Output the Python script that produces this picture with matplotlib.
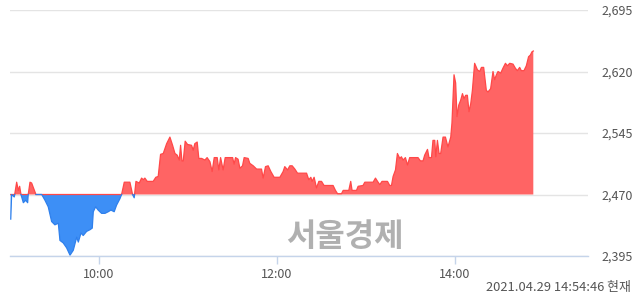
#coding:utf-8

#
# intraday price chart, red above previous close, blue below
#

import numpy as np
from matplotlib import pyplot as plt

plt.rcParams['font.family'] = ['Noto Sans CJK KR', 'DejaVu Sans']

base = 2470   # previous close
# minutes after 09:00 and price
minutes = [0.5, 1.1, 2.9, 4.5, 5.6, 6.5, 7.4, 9.0, 10.6, 11.9, 12.3, 13.5, 14.6, 16.9, 17.5, 21.4,
	23.6, 25.8, 28.1, 30.3, 32.6, 33.7, 35.9, 38.2, 40.5, 42.7, 45.0, 46.1, 47.9, 49.4, 51.7, 53.9,
	55.5, 56.2, 57.8, 59.5, 61.8, 64.1, 66.3, 68.1, 70.3, 71.9, 74.2, 75.3, 77.1, 80.9, 82.7, 83.8,
	85.0, 87.2, 88.8, 89.9, 91.0, 92.6, 96.6, 98.4, 100.0, 101.6, 103.4, 105.7, 107.9, 109.7, 111.3,
	112.8, 114.2, 115.1, 116.0, 116.9, 118.2, 119.8, 122.5, 123.6, 124.7, 126.3, 127.4, 129.3, 131.5,
	133.0, 134.9, 136.4, 137.8, 139.8, 140.9, 142.1, 143.8, 145.2, 150.2, 151.2, 152.2, 153.9, 155.1,
	156.9, 158.0, 160.7, 161.8, 164.1, 166.4, 169.7, 170.8, 172.4, 174.2, 176.0, 178.2, 182.1, 184.3,
	185.4, 187.3, 188.8, 190.4, 192.2, 194.0, 200.1, 201.6, 203.0, 203.8, 205.2, 206.8, 208.4, 210.2,
	211.9, 218.0, 219.6, 221.0, 223.7, 224.8, 228.6, 229.9, 230.8, 233.8, 234.9, 238.2, 239.4, 245.0,
	246.6, 248.0, 249.5, 251.0, 254.7, 256.2, 257.4, 258.5, 260.1, 261.4, 263.0, 264.1, 265.2, 266.8,
	268.2, 269.7, 275.3, 276.9, 278.7, 279.8, 281.7, 282.7, 284.4, 285.4, 286.6, 287.3, 288.4, 289.5,
	290.6, 292.2, 293.8, 295.5, 297.4, 298.2, 299.6, 300.7, 301.6, 302.8, 304.1, 305.3, 306.3, 307.5,
	308.6, 309.7, 310.9, 312.0, 313.5, 315.4, 316.9, 318.1, 319.6, 321.4, 322.5, 324.3, 325.9, 327.0,
	328.2, 329.3, 331.1, 332.6, 334.3, 335.6, 337.2, 339.4, 341.0, 342.3, 343.9, 345.0, 346.8, 348.4,
	349.9, 351.1, 352.2, 353.1]
prices = [2440, 2470, 2467, 2485, 2475, 2480, 2470, 2460, 2463, 2460, 2470, 2485, 2484, 2473, 2470, 2470,
	2463, 2455, 2437, 2433, 2435, 2414, 2411, 2405, 2396, 2402, 2418, 2412, 2423, 2420, 2425, 2427,
	2429, 2449, 2455, 2451, 2447, 2447, 2449, 2451, 2449, 2457, 2465, 2470, 2485, 2485, 2470, 2466,
	2486, 2484, 2490, 2488, 2490, 2486, 2486, 2491, 2492, 2519, 2520, 2532, 2540, 2530, 2520,
	2518, 2512, 2530, 2511, 2511, 2535, 2531, 2530, 2524, 2532, 2534, 2514, 2514, 2512,
	2515, 2510, 2498, 2515, 2515, 2500, 2515, 2500, 2515, 2515, 2507, 2515, 2513, 2502,
	2505, 2515, 2514, 2508, 2505, 2501, 2501, 2490, 2504, 2505, 2498, 2491, 2491, 2498,
	2504, 2500, 2505, 2505, 2501, 2496, 2496, 2488, 2491, 2486, 2491, 2478, 2486, 2486,
	2481, 2481, 2475, 2471, 2471, 2475, 2475, 2486, 2475, 2475, 2480, 2481, 2485, 2485,
	2490, 2486, 2482, 2486, 2486, 2481, 2481, 2492, 2500, 2520, 2514, 2516, 2512, 2515,
	2506, 2515, 2515, 2511, 2511, 2518, 2525, 2515, 2515, 2536, 2536, 2516, 2536, 2520,
	2520, 2540, 2540, 2528, 2540, 2557, 2616, 2606, 2565, 2579, 2585, 2593, 2587, 2591,
	2591, 2571, 2581, 2597, 2630, 2622, 2620, 2625, 2625, 2597, 2595, 2599, 2620, 2610,
	2616, 2620, 2618, 2624, 2630, 2627, 2630, 2629, 2624, 2621, 2625, 2621, 2621, 2627,
	2638, 2640, 2644, 2645]
yticks = [2395, 2470, 2545, 2620, 2695]
xticks = [60, 180, 300]
xlabels = ['10:00', '12:00', '14:00']


def split_at_base(x, y, b):
	# add the crossing points so fills meet the base line exactly
	xs, ys = [x[0]], [y[0]]
	for i in range(1, len(x)):
		y0, y1 = y[i-1], y[i]
		if (y0 - b) * (y1 - b) < 0:
			t = (b - y0) / (y1 - y0)
			xs.append(x[i-1] + t * (x[i] - x[i-1]))
			ys.append(b)
		xs.append(x[i])
		ys.append(y[i])
	return np.array(xs), np.array(ys)


if __name__ == '__main__':
	x, y = split_at_base(minutes, prices, base)
	up = np.maximum(y, base)
	dn = np.ma.masked_where(y > base, y)

	fig = plt.figure(figsize=(6.4, 2.94), dpi=100)
	ax = fig.add_axes([10/640, 1-256/294, 578/640, 246/294])

	for t in yticks:
		ax.axhline(t, color='#e4e4e4', lw=1, zorder=0)

	ax.fill_between(x, base, up, facecolor='#ff6464', lw=0, zorder=2)
	ax.fill_between(x, np.minimum(y, base), base, facecolor='#3d8ff6', lw=0, zorder=2)
	ax.plot(x, up, color='#ff4848', lw=0.9, zorder=3)
	ax.plot(x, dn, color='#2f80ec', lw=0.9, zorder=4)

	ax.set_xlim(0, 390)
	ax.set_ylim(2395, 2695)
	ax.set_xticks(xticks)
	ax.set_xticklabels(xlabels)
	ax.yaxis.tick_right()
	ax.set_yticks(yticks)
	ax.set_yticklabels(['{:,}'.format(v) for v in yticks])
	ax.tick_params(axis='y', length=0, pad=10, labelsize=9, labelcolor='#555555')
	ax.tick_params(axis='x', length=6, width=1, color='#c5d4ea', pad=3, labelsize=9, labelcolor='#555555')
	for s in ['top', 'left', 'right']:
		ax.spines[s].set_visible(False)
	ax.spines['bottom'].set_color('#c5d4ea')
	ax.spines['bottom'].set_linewidth(1)
	ax.spines['bottom'].set_zorder(5)

	fig.text(345/640, 1-237/294, '서울경제', fontsize=23, fontweight='bold', color='#a8a8a8',
		ha='center', va='center', alpha=0.9)
	fig.text(631/640, 1-287/294, '2021.04.29 14:54:46 현재', fontsize=9.3, color='#555555',
		ha='right', va='center')

	fig.savefig('out.png', dpi=100)
